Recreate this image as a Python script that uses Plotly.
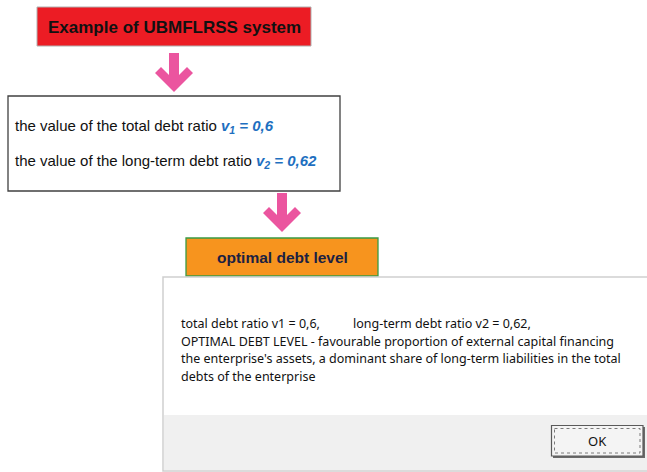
import plotly.graph_objects as go

# ---- data ----
system_name = ["UBMFLRSS"]
ratio_names = ["total debt ratio", "long-term debt ratio"]
ratio_symbols = ["v1", "v2"]
ratio_values = [0.6, 0.62]
result_label = ["optimal debt level"]
result_description = [
    "OPTIMAL DEBT LEVEL - favourable proportion of external capital financing",
    "the enterprise's assets, a dominant share of long-term liabilities in the total",
    "debts of the enterprise",
]
button_label = ["OK"]


def fmt(v):
    return ("%g" % v).replace(".", ",")


W, H = 647, 472
fig = go.Figure()
fig.add_trace(go.Scatter(x=[], y=[], hoverinfo="skip", showlegend=False))

shapes = []
ann = []

PINK = "#EB559F"


def arrow(cx, top):
    # down arrow with chevron head
    pts = [(-5, 0), (5, 0), (5, 22), (13, 14), (19, 20), (0, 39), (-19, 20), (-13, 14), (-5, 22)]
    path = "M " + " L ".join(f"{cx + dx},{top + dy}" for dx, dy in pts) + " Z"
    shapes.append(dict(type="path", path=path, xref="x", yref="y",
                       fillcolor=PINK, line=dict(width=0)))


# red title box
shapes.append(dict(type="rect", x0=37, x1=311, y0=7, y1=46, xref="x", yref="y",
                   fillcolor="#EC1C24", line=dict(color="#B0B0B0", width=1)))
ann.append(dict(x=174, y=27, text="<b>Example of %s system</b>" % system_name[0],
                showarrow=False, xanchor="center", yanchor="middle",
                font=dict(family="Liberation Sans, Arial", size=17, color="#111111")))

arrow(174, 53)

# white values box
shapes.append(dict(type="rect", x0=8, x1=340, y0=96, y1=191, xref="x", yref="y",
                   fillcolor="white", line=dict(color="#404040", width=1.3)))
BLUE = "#1E6FC0"
for i, (nm, sym, val) in enumerate(zip(ratio_names, ratio_symbols, ratio_values)):
    y = [126, 161][i]
    txt = ("the value of the %s <span style='color:%s'><b><i>v<sub>%s</sub> = %s</i></b></span>"
           % (nm, BLUE, sym[1:], fmt(val)))
    ann.append(dict(x=13, y=y, text=txt, showarrow=False, xanchor="left", yanchor="middle",
                    font=dict(family="Liberation Sans, Arial", size=15, color="#111111")))

arrow(282, 193)

# orange result box
shapes.append(dict(type="rect", x0=186, x1=378, y0=238, y1=276, xref="x", yref="y",
                   fillcolor="#F7941E", line=dict(color="#3A9A44", width=1.3)))
ann.append(dict(x=282, y=257, text="<b>%s</b>" % result_label[0], showarrow=False,
                xanchor="center", yanchor="middle",
                font=dict(family="Liberation Sans, Arial", size=15.5, color="#1C2142")))

# dialog window
shapes.append(dict(type="rect", x0=163, x1=648, y0=277, y1=471, xref="x", yref="y",
                   fillcolor="white", line=dict(color="#CFCFCF", width=1.5)))
shapes.append(dict(type="rect", x0=164, x1=647, y0=415, y1=470, xref="x", yref="y",
                   fillcolor="#F0F0F0", line=dict(width=0)))
# OK button (with 3D shadow)
shapes.append(dict(type="rect", x0=553, x1=645, y0=427, y1=458, xref="x", yref="y",
                   fillcolor="#6A6A6A", line=dict(width=0)))
shapes.append(dict(type="rect", x0=551.5, x1=643, y0=425.5, y1=456, xref="x", yref="y",
                   fillcolor="#F4F4F4", line=dict(color="#5A5A5A", width=1.2)))
shapes.append(dict(type="rect", x0=554.5, x1=640, y0=428.5, y1=453, xref="x", yref="y",
                   fillcolor="rgba(0,0,0,0)", line=dict(color="#7A7A7A", width=1, dash="dot")))
ann.append(dict(x=597.5, y=441, text=button_label[0], showarrow=False, xanchor="center",
                yanchor="middle", font=dict(family="Noto Sans", size=13, color="#111111")))

DFONT = dict(family="Noto Sans", size=12.5, color="#111111")
ann.append(dict(x=179, y=323, text="%s %s = %s," % (ratio_names[0], ratio_symbols[0], fmt(ratio_values[0])),
                showarrow=False, xanchor="left", yanchor="middle", font=DFONT))
ann.append(dict(x=351, y=323, text="%s %s = %s," % (ratio_names[1], ratio_symbols[1], fmt(ratio_values[1])),
                showarrow=False, xanchor="left", yanchor="middle", font=DFONT))
for i, line in enumerate(result_description):
    ann.append(dict(x=179, y=341 + i * 17.5, text=line, showarrow=False, xanchor="left",
                    yanchor="middle", font=DFONT))

fig.update_layout(
    width=W, height=H, margin=dict(l=0, r=0, t=0, b=0),
    paper_bgcolor="white", plot_bgcolor="white",
    xaxis=dict(range=[0, W], visible=False, fixedrange=True),
    yaxis=dict(range=[H, 0], visible=False, fixedrange=True),
    shapes=shapes, annotations=ann, showlegend=False,
)
fig.write_html("out.html", config={"displayModeBar": False},
               post_script="document.body.style.margin='0';document.body.style.overflow='hidden';")
